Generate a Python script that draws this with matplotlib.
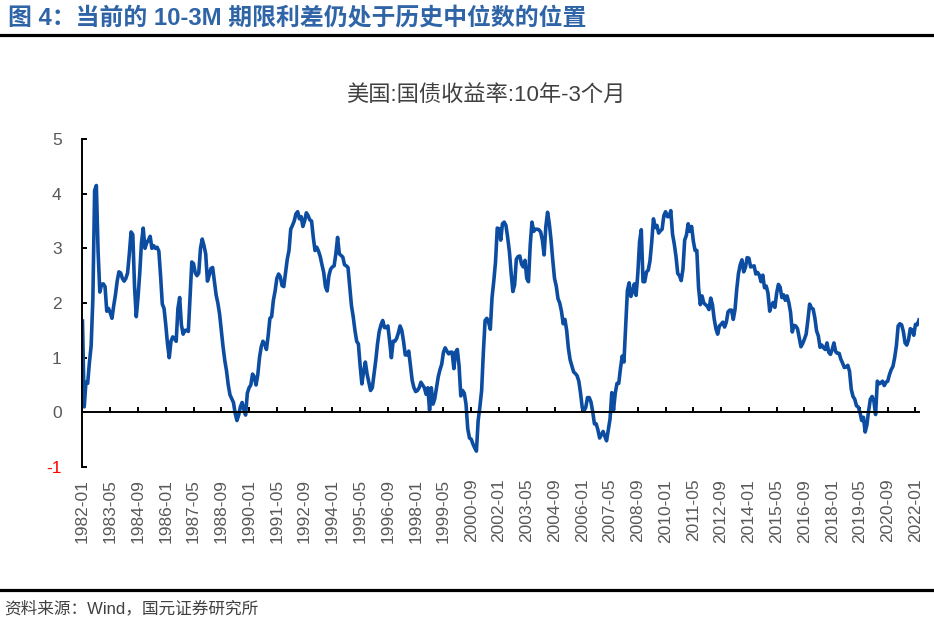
import matplotlib
matplotlib.use("Agg")
import matplotlib.pyplot as plt
from matplotlib.lines import Line2D
import numpy as np

plt.rcParams['font.family'] = ['Liberation Sans', 'Noto Sans CJK SC', 'DejaVu Sans']

# monthly 10Y - 3M spread, 1982-01 .. 2022-03
spread_1980s = [
    1.67, 0.10, 0.55, 0.53, 0.91, 1.22, 2.09, 4.06, 4.15, 2.94, 2.20, 2.34,  # 1982
    2.35, 2.30, 1.85, 1.90, 1.82, 1.72, 1.95, 2.15, 2.40, 2.57, 2.55, 2.45,  # 1983
    2.40, 2.45, 2.55, 2.90, 3.30, 3.25, 2.30, 1.75, 2.10, 2.55, 3.10, 3.37,  # 1984
    3.00, 3.10, 3.15, 3.22, 3.00, 3.05, 3.00, 3.02, 2.95, 2.50, 1.98, 1.90,  # 1985
    1.60, 1.25, 1.00, 1.30, 1.38, 1.35, 1.30, 1.90, 2.10, 1.60, 1.43, 1.50,  # 1986
    1.50, 1.48, 2.10, 2.75, 2.72, 2.55, 2.50, 2.55, 3.00, 3.17, 3.05, 2.90,  # 1987
    2.40, 2.50, 2.63, 2.65, 2.40, 2.15, 2.00, 1.80, 1.50, 1.20, 0.95, 0.76,  # 1988
    0.50, 0.32, 0.25, 0.18, -0.02, -0.15, -0.05, 0.10, 0.18, 0.05, -0.05, 0.35,  # 1989
]
spread_1990s = [
    0.45, 0.50, 0.70, 0.65, 0.50, 0.68, 1.00, 1.20, 1.30, 1.25, 1.15, 1.40,  # 1990
    1.72, 1.75, 2.05, 2.22, 2.45, 2.53, 2.48, 2.32, 2.30, 2.55, 2.80, 2.96,  # 1991
    3.35, 3.42, 3.50, 3.63, 3.67, 3.54, 3.58, 3.40, 3.50, 3.65, 3.60, 3.52,  # 1992
    3.50, 3.20, 2.96, 3.02, 2.95, 2.85, 2.70, 2.56, 2.30, 2.22, 2.50, 2.62,  # 1993
    2.66, 2.68, 2.90, 3.20, 2.90, 2.87, 2.84, 2.70, 2.68, 2.65, 2.30, 1.95,  # 1994
    1.75, 1.50, 1.30, 1.25, 0.85, 0.52, 0.75, 0.92, 0.70, 0.55, 0.40, 0.45,  # 1995
    0.70, 0.95, 1.25, 1.48, 1.60, 1.68, 1.55, 1.55, 1.58, 1.30, 1.00, 1.30,  # 1996
    1.30, 1.35, 1.45, 1.58, 1.50, 1.30, 1.05, 1.05, 1.12, 0.85, 0.58, 0.45,  # 1997
    0.38, 0.40, 0.45, 0.55, 0.50, 0.45, 0.33, 0.45, 0.04, 0.45, 0.15, 0.25,  # 1998
    0.45, 0.65, 0.78, 0.88, 1.10, 1.18, 1.12, 1.07, 1.10, 1.10, 0.80, 1.10,  # 1999
]
spread_2000s = [
    1.15, 0.85, 0.30, 0.40, 0.35, 0.15, -0.30, -0.47, -0.49, -0.58, -0.65, -0.71,  # 2000
    -0.15, 0.10, 0.40, 1.10, 1.68, 1.72, 1.65, 1.52, 2.10, 2.40, 2.75, 3.37,  # 2001
    3.36, 3.15, 3.45, 3.48, 3.42, 3.20, 2.94, 2.55, 2.21, 2.33, 2.80, 2.85,  # 2002
    2.86, 2.71, 2.66, 2.78, 2.45, 2.39, 3.06, 3.48, 3.31, 3.35, 3.35, 3.34,  # 2003
    3.30, 3.15, 2.88, 3.40, 3.66, 3.45, 3.15, 2.78, 2.45, 2.31, 2.08, 2.00,  # 2004
    1.85, 1.62, 1.70, 1.50, 1.17, 0.96, 0.85, 0.74, 0.71, 0.67, 0.57, 0.35,  # 2005
    0.08, 0.03, 0.09, 0.27, 0.27, 0.19, 0.01, -0.21, -0.21, -0.32, -0.47, -0.41,  # 2006
    -0.35, -0.44, -0.52, -0.32, -0.12, 0.36, 0.04, 0.35, 0.53, 0.53, 0.80, 1.03,  # 2007
    0.92, 1.57, 2.23, 2.37, 2.12, 2.21, 2.35, 2.14, 2.54, 3.12, 3.34, 2.39,  # 2008
    2.39, 2.57, 2.60, 2.77, 3.11, 3.54, 3.38, 3.42, 3.28, 3.32, 3.35, 3.60,  # 2009
]
spread_2010s = [
    3.67, 3.58, 3.58, 3.69, 3.26, 3.08, 2.85, 2.54, 2.50, 2.41, 2.62, 3.15,  # 2010
    3.24, 3.45, 3.31, 3.40, 3.13, 2.96, 2.96, 2.28, 1.97, 2.13, 2.00, 1.97,  # 2011
    1.94, 1.88, 2.09, 1.97, 1.71, 1.53, 1.43, 1.58, 1.61, 1.65, 1.56, 1.65,  # 2012
    1.84, 1.87, 1.87, 1.70, 1.88, 2.25, 2.54, 2.70, 2.79, 2.57, 2.65, 2.83,  # 2013
    2.82, 2.66, 2.67, 2.68, 2.53, 2.56, 2.51, 2.39, 2.51, 2.28, 2.31, 2.18,  # 2014
    1.85, 1.96, 2.01, 1.92, 2.18, 2.34, 2.29, 2.10, 2.15, 2.05, 2.13, 2.01,  # 2015
    1.83, 1.47, 1.59, 1.58, 1.53, 1.37, 1.20, 1.26, 1.34, 1.43, 1.69, 1.98,  # 2016
    1.91, 1.89, 1.73, 1.49, 1.40, 1.19, 1.23, 1.18, 1.15, 1.27, 1.10, 1.06,  # 2017
    1.15, 1.27, 1.11, 1.08, 1.08, 0.97, 0.90, 0.82, 0.83, 0.86, 0.75, 0.42,  # 2018
    0.29, 0.24, 0.12, 0.10, 0.00, -0.15, -0.09, -0.36, -0.23, 0.03, 0.24, 0.29,  # 2019
]
spread_2020s = [
    0.21, -0.04, 0.57, 0.52, 0.54, 0.57, 0.49, 0.55, 0.57, 0.69, 0.78, 0.84,  # 2020
    1.00, 1.22, 1.58, 1.62, 1.60, 1.48, 1.27, 1.23, 1.33, 1.53, 1.51, 1.41,  # 2021
    1.61, 1.60, 1.69,  # 2022
]
spread = spread_1980s + spread_1990s + spread_2000s + spread_2010s + spread_2020s

# month labels, 1982-01 onwards
months = [f"{1982 + i // 12}-{i % 12 + 1:02d}" for i in range(len(spread))]
tick_step = 16
yticks = [-1, 0, 1, 2, 3, 4, 5]

title = "图 4：当前的 10-3M 期限利差仍处于历史中位数的位置"
chart_title = "美国:国债收益率:10年-3个月"
source = "资料来源：Wind，国元证券研究所"

fig = plt.figure(figsize=(9.34, 6.22), dpi=100)
ax = fig.add_axes([0.0883, 0.2492, 0.8956, 0.5273])

x = np.arange(len(spread))
ax.plot(x, spread, color="#0C4DA2", lw=2.6, solid_joinstyle="round")

ax.set_xlim(0, len(spread) - 1)
ax.set_ylim(-1, 5)
ax.set_yticks(yticks)
ax.set_yticklabels([str(v) for v in yticks])
for lab, v in zip(ax.get_yticklabels(), yticks):
    lab.set_color("red" if v < 0 else "#595959")

for s in ["top", "right"]:
    ax.spines[s].set_visible(False)
ax.spines["left"].set_linewidth(1.4)
ax.spines["bottom"].set_position(("data", 0))
ax.spines["bottom"].set_linewidth(1.4)

tick_pos = x[::tick_step]
ax.set_xticks(tick_pos)
ax.tick_params(axis="x", direction="in", length=3.8, width=1.4, labelbottom=False)
ax.tick_params(axis="y", direction="in", length=3.8, width=1.4, labelsize=12.5, pad=15)

for p in tick_pos:
    ax.text(p, -0.036, months[p], transform=ax.get_xaxis_transform(), rotation=90,
            ha="center", va="top", fontsize=12.5, color="#595959")

fig.text(0.0086, 0.970, title, fontsize=17.2, fontweight="bold", color="#2F65A7",
         va="center", ha="left")
fig.add_artist(Line2D([0, 0.998], [0.943, 0.943], color="black", lw=2.3))
fig.text(0.520, 0.847, chart_title, fontsize=16, color="#404040", ha="center", va="center")
fig.add_artist(Line2D([0, 0.998], [0.0514, 0.0514], color="black", lw=2.3))
fig.text(0.004, 0.0225, source, fontsize=12, color="#404040", ha="left", va="center")

fig.savefig("out.png", dpi=100)
